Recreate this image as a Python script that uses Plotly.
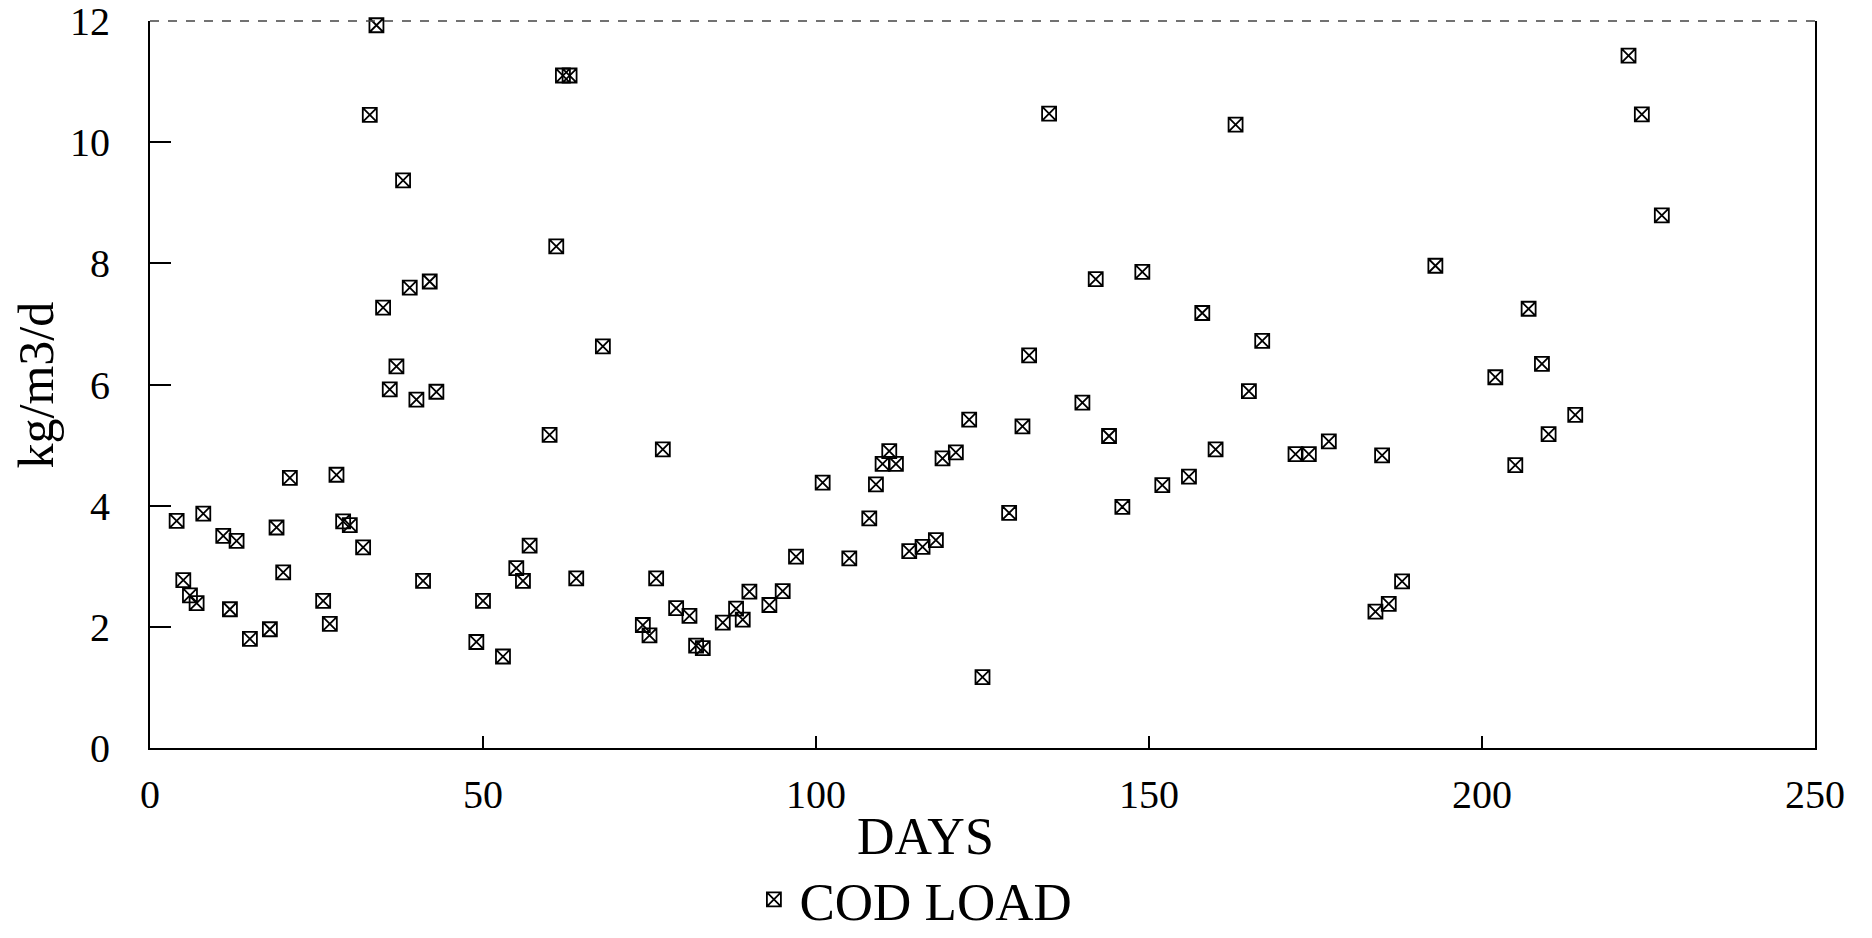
import plotly.graph_objects as go

# Data (day, COD load kg/m3/d)
days = [4, 5, 6, 7, 8, 11, 12, 13, 15, 18, 19, 20, 21, 26, 27, 28, 29, 30, 32,
        33, 34, 35, 36, 37, 38, 39, 40, 41, 42, 43, 49, 50, 53, 55, 56, 57,
        60, 61, 62, 63, 64, 68, 74, 75, 76, 77, 79, 81, 82, 83, 86, 88, 89,
        90, 93, 95, 97, 101, 105, 108, 109, 110, 111, 112, 114, 116, 118,
        119, 121, 123, 125, 129, 131, 132, 135, 140, 142, 144, 146, 149,
        152, 156, 158, 160, 163, 165, 167, 172, 174, 177, 184, 185, 186,
        188, 193, 202, 205, 207, 209, 210, 214, 222, 224, 227]
cod_load = [3.75, 2.77, 2.52, 2.39, 3.87, 3.50, 2.29, 3.42, 1.80, 1.96, 3.64,
            2.90, 4.46, 2.43, 2.05, 4.51, 3.74, 3.68, 3.31,
            10.45, 11.93, 7.27, 5.92, 6.30, 9.37, 7.60, 5.75, 2.76, 7.70, 5.88,
            1.75, 2.43, 1.51, 2.97, 2.76, 3.34,
            5.17, 8.28, 11.10, 11.10, 2.80, 6.63, 2.03, 1.86, 2.80, 4.93, 2.31,
            2.18, 1.69, 1.65, 2.07, 2.30, 2.12,
            2.58, 2.36, 2.59, 3.16, 4.38, 3.13, 3.79, 4.35, 4.69, 4.90, 4.69,
            3.25, 3.32, 3.43,
            4.78, 4.88, 5.42, 1.17, 3.88, 5.31, 6.48, 10.47, 5.70, 7.74, 5.15,
            3.98, 7.86,
            4.34, 4.48, 7.18, 4.93, 10.29, 5.89, 6.72, 4.85, 4.85, 5.06, 2.25,
            4.83, 2.38,
            2.75, 7.96, 6.12, 4.67, 7.25, 6.34, 5.18, 5.50, 11.43, 10.46, 8.79]

x_ticks = [0, 50, 100, 150, 200, 250]
y_ticks = [0, 2, 4, 6, 8, 10, 12]
series_name = "COD LOAD"
x_title = "DAYS"
y_title = "kg/m3/d"

FONT = "Liberation Serif, Times New Roman, serif"

fig = go.Figure()
fig.add_trace(go.Scatter(
    x=days, y=cod_load, mode="markers", name=series_name,
    marker=dict(symbol="square-x-open", size=14, color="black",
                line=dict(width=1.8, color="black")),
    cliponaxis=False,
))

fig.update_layout(
    width=1872, height=938,
    margin=dict(l=150, r=57, t=21, b=190, autoexpand=False),
    paper_bgcolor="white", plot_bgcolor="white",
    font=dict(family=FONT, color="black"),
    showlegend=True,
    legend=dict(x=0.3594, y=-0.152, xanchor="left", yanchor="top",
                itemwidth=41,
                font=dict(size=53, family=FONT, color="black"),
                bgcolor="rgba(0,0,0,0)", borderwidth=0),
    xaxis=dict(range=[0, 250], tickvals=x_ticks, ticktext=[str(v) for v in x_ticks],
               ticks="inside", ticklen=12, tickwidth=1.5, tickcolor="black",
               showline=True, linecolor="black", linewidth=2, mirror=False,
               showgrid=False, zeroline=False, automargin=False,
               ticklabeloverflow="allow",
               tickfont=dict(size=40, family=FONT, color="black"),
               ticklabelstandoff=10),
    yaxis=dict(range=[0, 12], tickvals=y_ticks, ticktext=[str(v) for v in y_ticks],
               ticks="inside", ticklen=21, tickwidth=1.5, tickcolor="black",
               showline=True, linecolor="black", linewidth=2, mirror=True,
               showgrid=False, zeroline=False, automargin=False,
               ticklabeloverflow="allow",
               tickfont=dict(size=40, family=FONT, color="black"),
               ticklabelstandoff=30),
    annotations=[
        dict(text=x_title, xref="paper", yref="paper", x=0.466, y=-0.122,
             xanchor="center", yanchor="middle", showarrow=False,
             font=dict(size=52, family=FONT, color="black")),
        dict(text=y_title, xref="paper", yref="paper", x=-0.0685, y=0.5,
             xanchor="center", yanchor="middle", showarrow=False, textangle=-90,
             font=dict(size=50, family=FONT, color="black")),
    ],
    shapes=[
        dict(type="line", xref="paper", yref="paper", x0=0, x1=1, y0=1, y1=1,
             line=dict(color="#444", width=1.5, dash="dash")),
    ],
)

fig.write_html("out.html")
